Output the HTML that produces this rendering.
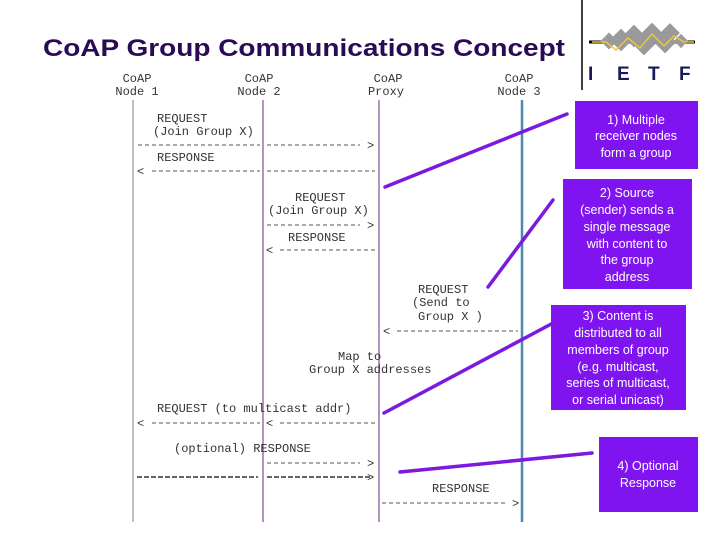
<!DOCTYPE html>
<html><head><style>
body{margin:0;background:#fff;width:720px;height:540px;overflow:hidden}
svg{display:block}
.m{font-family:"Liberation Mono",monospace;font-size:12px;fill:#333}
.b{font-family:"Liberation Sans",sans-serif;font-size:12.5px;fill:#fff;text-anchor:middle}
</style></head><body>
<svg width="720" height="540" viewBox="0 0 720 540">
<text x="43" y="56" font-family="Liberation Sans,sans-serif" font-weight="bold" font-size="24" fill="#2a0a55" textLength="522" lengthAdjust="spacingAndGlyphs">CoAP Group Communications Concept</text>
<line x1="582" y1="0" x2="582" y2="90" stroke="#000" stroke-width="1.5"/>
<!-- IETF logo -->
<g>
<line x1="589" y1="42" x2="695" y2="42" stroke="#000" stroke-width="3"/>
<g fill="#9a9a9a">
<rect x="603" y="35" width="12" height="12" transform="rotate(45 609 41)"/>
<rect x="613" y="32" width="16" height="16" transform="rotate(45 621 40)"/>
<rect x="626" y="28" width="16" height="16" transform="rotate(45 634 36)"/>
<rect x="636" y="36" width="16" height="16" transform="rotate(45 644 44)"/>
<rect x="644" y="26" width="16" height="16" transform="rotate(45 652 34)"/>
<rect x="657" y="34" width="16" height="16" transform="rotate(45 665 42)"/>
<rect x="663" y="26" width="14" height="14" transform="rotate(45 670 33)"/>
<rect x="676" y="36" width="10" height="10" transform="rotate(45 681 41)"/>
</g>
<polyline points="592,42 606,42 616,50 628,38 640,48 652,34 664,46 674,36 684,42 694,42" fill="none" stroke="#e8c840" stroke-width="1.5"/>
<g font-family="Liberation Sans,sans-serif" font-weight="900" font-size="19" fill="#1a1a5a">
<text x="588" y="80">I</text><text x="617" y="80">E</text><text x="648" y="80">T</text><text x="679" y="80">F</text>
</g>
</g>
<!-- headers -->
<g class="m" text-anchor="middle">
<text x="137" y="82">CoAP</text><text x="137" y="95">Node 1</text>
<text x="259" y="82">CoAP</text><text x="259" y="95">Node 2</text>
<text x="388" y="82">CoAP</text><text x="386" y="95">Proxy</text>
<text x="519" y="82">CoAP</text><text x="519" y="95">Node 3</text>
</g>
<!-- lifelines -->
<line x1="133" y1="100" x2="133" y2="522" stroke="#aaa" stroke-width="1.5"/>
<line x1="263" y1="100" x2="263" y2="522" stroke="#8a5a9a" stroke-width="1.3"/>
<line x1="379" y1="100" x2="379" y2="522" stroke="#8a5a9a" stroke-width="1.3"/>
<line x1="522" y1="100" x2="522" y2="522" stroke="#4a8ab0" stroke-width="2.5"/>
<g stroke="#555" stroke-width="1" stroke-dasharray="4,3" fill="none">
<line x1="138" y1="145" x2="260" y2="145"/><line x1="267" y1="145" x2="360" y2="145"/>
<line x1="152" y1="171" x2="260" y2="171"/><line x1="267" y1="171" x2="375" y2="171"/>
<line x1="267" y1="225" x2="360" y2="225"/>
<line x1="280" y1="250" x2="375" y2="250"/>
<line x1="397" y1="331" x2="518" y2="331"/>
<line x1="152" y1="423" x2="260" y2="423"/><line x1="280" y1="423" x2="375" y2="423"/>
<line x1="267" y1="463" x2="360" y2="463"/>
<line x1="382" y1="503" x2="505" y2="503"/>
</g>
<g stroke="#333" stroke-width="1.6" stroke-dasharray="5,2" fill="none">
<line x1="137" y1="477" x2="258" y2="477"/><line x1="267" y1="477" x2="372" y2="477"/>
</g>
<g class="m">
<text x="157" y="122">REQUEST</text><text x="153" y="135">(Join Group X)</text>
<text x="367" y="149">&gt;</text>
<text x="157" y="161">RESPONSE</text>
<text x="137" y="175">&lt;</text>
<text x="295" y="201">REQUEST</text><text x="268" y="214">(Join Group X)</text>
<text x="367" y="229">&gt;</text>
<text x="288" y="241">RESPONSE</text>
<text x="266" y="254">&lt;</text>
<text x="418" y="293">REQUEST</text><text x="412" y="306">(Send to</text><text x="418" y="320">Group X )</text>
<text x="383" y="335">&lt;</text>
<text x="338" y="360">Map to</text><text x="309" y="373">Group X addresses</text>
<text x="157" y="412">REQUEST (to multicast addr)</text>
<text x="137" y="427">&lt;</text><text x="266" y="427">&lt;</text>
<text x="174" y="452">(optional) RESPONSE</text>
<text x="367" y="467">&gt;</text>
<text x="367" y="481">&gt;</text>
<text x="432" y="492">RESPONSE</text>
<text x="512" y="507">&gt;</text>
</g>
<!-- connectors -->
<g stroke="#7a1ae0" stroke-width="3.5" stroke-linecap="round">
<line x1="385" y1="187" x2="567" y2="114"/>
<line x1="488" y1="287" x2="553" y2="200"/>
<line x1="384" y1="413" x2="555" y2="322"/>
<line x1="400" y1="472" x2="592" y2="453"/>
</g>
<!-- boxes -->
<g fill="#7f14f0">
<rect x="575" y="101" width="123" height="68"/>
<rect x="563" y="179" width="129" height="110"/>
<rect x="551" y="305" width="135" height="105"/>
<rect x="599" y="437" width="99" height="75"/>
</g>
<text class="b" x="636" y="124">1) Multiple</text>
<text class="b" x="636" y="140">receiver nodes</text>
<text class="b" x="636" y="157">form a group</text>
<text class="b" x="627" y="197">2) Source</text>
<text class="b" x="627" y="214">(sender) sends a</text>
<text class="b" x="627" y="231">single message</text>
<text class="b" x="627" y="248">with content to</text>
<text class="b" x="627" y="264">the group</text>
<text class="b" x="627" y="281">address</text>
<text class="b" x="618" y="320">3) Content is</text>
<text class="b" x="618" y="337">distributed to all</text>
<text class="b" x="618" y="354">members of group</text>
<text class="b" x="618" y="371">(e.g. multicast,</text>
<text class="b" x="618" y="387">series of multicast,</text>
<text class="b" x="618" y="404">or serial unicast)</text>
<text class="b" x="648" y="470">4) Optional</text>
<text class="b" x="648" y="487">Response</text>
</svg>
</body></html>
